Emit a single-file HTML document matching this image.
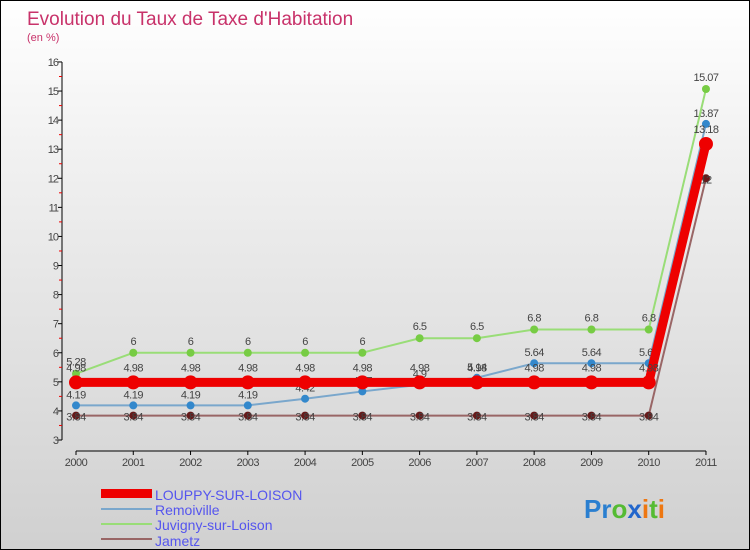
<!DOCTYPE html>
<html><head><meta charset="utf-8"><style>
body{margin:0}
#c{width:748px;height:548px;border:1px solid #000;background:linear-gradient(#fff,#f0f0f0 30%,#d0d0d0);position:relative;font-family:"Liberation Sans",sans-serif}
</style></head><body>
<div id="c">
<svg id="s" width="748" height="548" style="position:absolute;left:0;top:0">
<text x="26" y="24" font-size="19" fill="#c8326a">Evolution du Taux de Taxe d'Habitation</text>
<text x="26" y="40" font-size="11" fill="#c8326a">(en %)</text>
<g id="axes"></g><g id="series"></g>
<g>
<rect x="100" y="488" width="51" height="9" fill="#e00"/>
<text x="154" y="499" font-size="14" fill="#5555ee">LOUPPY-SUR-LOISON</text>
<line x1="100" y1="508" x2="151" y2="508" stroke="#7aa7cc" stroke-width="2"/>
<text x="154" y="514" font-size="14" fill="#5555ee">Remoiville</text>
<line x1="100" y1="523" x2="151" y2="523" stroke="#99dd77" stroke-width="2"/>
<text x="154" y="529" font-size="14" fill="#5555ee">Juvigny-sur-Loison</text>
<line x1="100" y1="538" x2="151" y2="538" stroke="#996666" stroke-width="2"/>
<text x="154" y="545" font-size="14" fill="#5555ee">Jametz</text>
</g>
<text x="583" y="517" font-size="26" font-weight="bold"><tspan fill="#2a7fd0">Pr</tspan><tspan fill="#55bb33">o</tspan><tspan fill="#2266cc">x</tspan><tspan fill="#ee7711">i</tspan><tspan fill="#55bb33">t</tspan><tspan fill="#ee7711">i</tspan></text>
</svg></div>
<script>
const years=["2000","2001","2002","2003","2004","2005","2006","2007","2008","2009","2010","2011"];
const louppy=[4.98,4.98,4.98,4.98,4.98,4.98,4.98,4.98,4.98,4.98,4.98,13.18];
const remoiville=[4.19,4.19,4.19,4.19,4.42,4.67,4.9,5.14,5.64,5.64,5.64,13.87];
const juvigny=[5.28,6,6,6,6,6,6.5,6.5,6.8,6.8,6.8,15.07];
const jametz=[3.84,3.84,3.84,3.84,3.84,3.84,3.84,3.84,3.84,3.84,3.84,12];
const yTicks=[3,4,5,6,7,8,9,10,11,12,13,14,15,16];
const NS="http://www.w3.org/2000/svg";
const X=i=>75+i*57.27, Y=v=>439-(v-3)*29.08;
function mk(p,t,a){const e=document.createElementNS(NS,t);for(const k in a)e.setAttribute(k,a[k]);p.appendChild(e);return e;}
const ax=document.getElementById('axes'),sg=document.getElementById('series');
let e=mk(ax,'line',{x1:61,y1:Y(16),x2:61,y2:Y(3),stroke:'#000'});

e=mk(ax,'line',{x1:75,y1:450,x2:705,y2:450,stroke:'#000'});

yTicks.forEach(v=>{mk(ax,'line',{x1:57,y1:Y(v),x2:61,y2:Y(v),stroke:'#000'});
 if(v<16)mk(ax,'line',{x1:58,y1:Y(v+0.5),x2:61,y2:Y(v+0.5),stroke:'#e00'});
 const t=mk(ax,'text',{x:57,y:Y(v)+4,'font-size':11,fill:'#444','text-anchor':'end','letter-spacing':'-1'});t.textContent=v;
 });
years.forEach((y,i)=>{mk(ax,'line',{x1:X(i),y1:450,x2:X(i),y2:454,stroke:'#000'});
 const t=mk(ax,'text',{x:X(i),y:465,'font-size':11,fill:'#444','text-anchor':'middle','letter-spacing':'-0.5'});t.textContent=y;
 });
function draw(name,data,col,dot,w,r,lab){
 const g=mk(sg,'g',{});
 mk(g,'polyline',{points:data.map((v,i)=>X(i)+','+Y(v)).join(' '),fill:'none',stroke:col,'stroke-width':w});
 data.forEach((v,i)=>{const c=mk(g,'circle',{cx:X(i),cy:Y(v),r:r,fill:dot});
  
  const t=mk(g,'text',{x:X(i),y:Y(v)+lab,'font-size':11,fill:'#444','text-anchor':'middle','letter-spacing':'-0.5'});t.textContent=String(v).replace(/^(\d+\.\d)0$/,'$1');
  });
}
draw('jametz',jametz,'#996666','#661a1a',2,4,5);
draw('remoiville',remoiville,'#7aa7cc','#3388cc',2,4,-7);
draw('juvigny',juvigny,'#99dd77','#77cc44',2,4,-8);
draw('louppy',louppy,'#ee0000','#ee0000',9,7,-11);
</script></body></html>
